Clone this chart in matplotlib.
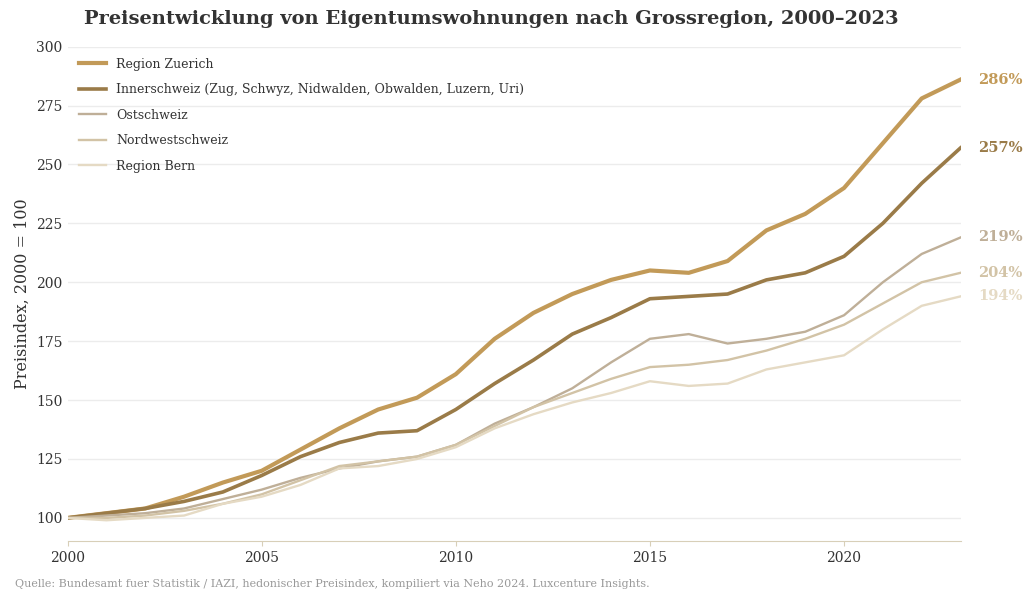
import matplotlib
matplotlib.use("Agg")
import matplotlib.pyplot as plt

plt.rcParams['font.family'] = ['DejaVu Serif']

years = list(range(2000, 2024))
zuerich = [100,102,104,109,115,120,129,138,146,151,161,176,187,195,201,205,204,209,222,229,240,259,278,286]
inner = [100,102,104,107,111,118,126,132,136,137,146,157,167,178,185,193,194,195,201,204,211,225,242,257]
ost = [100,101,102,104,108,112,117,121,124,126,131,140,147,155,166,176,178,174,176,179,186,200,212,219]
nordwest = [100,100,101,103,106,110,116,122,124,126,131,139,147,153,159,164,165,167,171,176,182,191,200,204]
bern = [100,99,100,101,106,109,114,121,122,125,130,138,144,149,153,158,156,157,163,166,169,180,190,194]

names = ["Region Zuerich", "Innerschweiz (Zug, Schwyz, Nidwalden, Obwalden, Luzern, Uri)",
         "Ostschweiz", "Nordwestschweiz", "Region Bern"]
series = [zuerich, inner, ost, nordwest, bern]
colors = ["#C29A58", "#9A7B48", "#BFAF98", "#D2C3A6", "#E5DAC4"]
widths = [3, 2.6, 1.7, 1.7, 1.7]

fig = plt.figure(figsize=(10.24, 6.05), dpi=100)
ax = fig.add_axes([0.066, 0.105, 0.872, 0.818])
for s, n, c, w in zip(series, names, colors, widths):
    ax.plot(years, s, color=c, lw=w, label=n)
    ax.text(2023.45, s[-1], f"{s[-1]}%", color=c, fontsize=10.5, fontweight='bold', va='center')

ax.set_xlim(2000, 2023)
ax.set_ylim(90, 300)
ax.set_yticks(range(100, 301, 25))
ax.set_xticks(range(2000, 2021, 5))
ax.grid(axis='y', color='#ECECEC', lw=1)
ax.set_axisbelow(True)
for sp in ['top', 'right', 'left']:
    ax.spines[sp].set_visible(False)
ax.spines['bottom'].set_color('#D8CFB8')
ax.tick_params(axis='y', length=0, labelsize=10, colors='#333333')
ax.tick_params(axis='x', labelsize=10, colors='#333333', color='#D8CFB8')
ax.set_ylabel("Preisindex, 2000 = 100", fontsize=11.5, color='#333333')
leg = ax.legend(loc='upper left', frameon=False, fontsize=9, handlelength=2.2,
                labelspacing=1.0, bbox_to_anchor=(0.0, 1.0))
for t in leg.get_texts():
    t.set_color('#333333')
fig.text(0.48, 0.968, "Preisentwicklung von Eigentumswohnungen nach Grossregion, 2000–2023",
         ha='center', va='center', fontsize=14, fontweight='bold', color='#333333')
fig.text(0.015, 0.03, "Quelle: Bundesamt fuer Statistik / IAZI, hedonischer Preisindex, kompiliert via Neho 2024. Luxcenture Insights.",
         fontsize=8, color='#999999')
fig.savefig("out.png", dpi=100, facecolor='white')
